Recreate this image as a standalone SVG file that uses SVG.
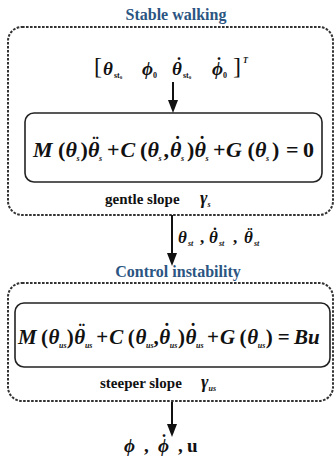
<svg xmlns="http://www.w3.org/2000/svg" width="334" height="462" viewBox="0 0 334 462">
<defs>
<marker id="ah" viewBox="0 0 13 10" refX="5" refY="5" markerWidth="13" markerHeight="10" markerUnits="userSpaceOnUse" orient="auto">
<path d="M0,0 L13,5 L0,10 Z" fill="#111"/>
</marker>
<style>
.title{font-family:"Liberation Serif",serif;font-weight:bold;font-size:16px;fill:#2b5582;text-anchor:middle}
.outer{fill:none;stroke:#333;stroke-width:2;stroke-dasharray:2.6,1.4}
.inner{fill:none;stroke:#222;stroke-width:1.6}
.eq{font-family:"Liberation Serif",serif;font-weight:bold;font-style:italic;font-size:22px;fill:#111}
.e2{font-size:21px}
.up{font-style:normal}
.sub{font-size:8px}
.dot{font-style:normal;font-size:20px}
.lbl{font-family:"Liberation Serif",serif;font-weight:bold;font-size:15px;fill:#111}
.conn{stroke:#111;stroke-width:2;fill:none}
</style>
</defs>
<g id="stable-walking">
<text class="title" x="176" y="20">Stable walking</text>
<rect class="outer" x="8" y="27" width="325" height="188" rx="14"/>
</g>
<g id="initial-state">
<text class="eq" style="font-size:19px" y="75"><tspan x="94" y="74" class="up" style="font-size:24px;font-weight:normal">[</tspan><tspan x="103" y="75">θ</tspan><tspan x="114" dy="3" class="sub up">st</tspan><tspan dy="1" style="font-size:5px" class="up">0</tspan><tspan x="142" dy="-4">ϕ</tspan><tspan x="153" dy="3" class="sub up">0</tspan><tspan x="172" dy="-3">θ</tspan><tspan x="183" dy="3" class="sub up">st</tspan><tspan dy="1" style="font-size:5px" class="up">0</tspan><tspan x="212" dy="-4">ϕ</tspan><tspan x="223" dy="3" class="sub up">0</tspan><tspan x="233" y="74" class="up" style="font-size:24px;font-weight:normal">]</tspan><tspan x="243" y="63" style="font-size:8px">T</tspan><tspan x="176" y="70" class="dot" style="font-size:18px">˙</tspan><tspan x="216" y="70" class="dot" style="font-size:18px">˙</tspan></text>
</g>
<g id="eq-stable">
<rect class="inner" x="25" y="113" width="297" height="69" rx="9"/>
<text class="eq" y="157"><tspan x="33">M</tspan><tspan x="58" class="up">(</tspan><tspan x="65.5">θ</tspan><tspan x="76.5" dy="4" class="sub">s</tspan><tspan x="80.5" dy="-4" class="up">)</tspan><tspan x="88">θ</tspan><tspan x="99" dy="4" class="sub">s</tspan><tspan x="107" dy="-4" class="up">+</tspan><tspan x="120.5">C</tspan><tspan x="140" class="up">(</tspan><tspan x="147.5">θ</tspan><tspan x="158.5" dy="4" class="sub">s</tspan><tspan x="163.5" dy="-4" class="up">,</tspan><tspan x="170">θ</tspan><tspan x="181" dy="4" class="sub">s</tspan><tspan x="187" dy="-4" class="up">)</tspan><tspan x="194.5">θ</tspan><tspan x="205.5" dy="4" class="sub">s</tspan><tspan x="213" dy="-4" class="up">+</tspan><tspan x="226">G</tspan><tspan x="247.5" class="up">(</tspan><tspan x="255">θ</tspan><tspan x="266" dy="4" class="sub">s</tspan><tspan x="272" dy="-4" class="up">)</tspan><tspan x="286" class="up">=</tspan><tspan x="303" class="up">0</tspan><tspan x="92.2" y="151" class="dot">¨</tspan><tspan x="174.2" y="151" class="dot">˙</tspan><tspan x="198.7" y="151" class="dot">˙</tspan></text>
</g>
<g id="gentle-slope">
<text class="lbl" x="105" y="204">gentle slope</text>
<text class="eq" x="200" y="204" style="font-size:18px">γ<tspan class="sub" dy="3">s</tspan></text>
</g>
<g id="control-instability">
<text class="title" x="178" y="277">Control instability</text>
<rect class="outer" x="8" y="283" width="325" height="118" rx="14"/>
</g>
<g id="eq-unstable">
<rect class="inner" x="15" y="303" width="315" height="64" rx="9"/>
<text class="eq e2" y="344"><tspan x="18">M</tspan><tspan x="41" class="up">(</tspan><tspan x="48.6">θ</tspan><tspan x="59.1" dy="4" class="sub">us</tspan><tspan x="66.7" dy="-4" class="up">)</tspan><tspan x="74.3">θ</tspan><tspan x="84.9" dy="4" class="sub">us</tspan><tspan x="96.3" dy="-4" class="up">+</tspan><tspan x="109.2">C</tspan><tspan x="127.8" class="up">(</tspan><tspan x="135.5">θ</tspan><tspan x="146" dy="4" class="sub">us</tspan><tspan x="153.6" dy="-4" class="up">,</tspan><tspan x="159.3">θ</tspan><tspan x="169.8" dy="4" class="sub">us</tspan><tspan x="178" dy="-4" class="up">)</tspan><tspan x="185.6">θ</tspan><tspan x="196.1" dy="4" class="sub">us</tspan><tspan x="207.1" dy="-4" class="up">+</tspan><tspan x="220">G</tspan><tspan x="239.6" class="up">(</tspan><tspan x="247.2">θ</tspan><tspan x="257.7" dy="4" class="sub">us</tspan><tspan x="265.8" dy="-4" class="up">)</tspan><tspan x="277.8" class="up">=</tspan><tspan x="294">Bu</tspan><tspan x="78.5" y="338" class="dot">¨</tspan><tspan x="163.5" y="338" class="dot">˙</tspan><tspan x="189.8" y="338" class="dot">˙</tspan></text>
</g>
<g id="steeper-slope">
<text class="lbl" x="100" y="388">steeper slope</text>
<text class="eq" x="201" y="388" style="font-size:18px">γ<tspan class="sub" dy="3">us</tspan></text>
</g>
<g id="output">
<text class="eq" style="font-size:19px" y="452"><tspan x="124">ϕ</tspan><tspan x="144" class="up">,</tspan><tspan x="158">ϕ</tspan><tspan x="178" class="up">,</tspan><tspan x="187" class="up">u</tspan><tspan x="161" y="447" class="dot" style="font-size:18px">˙</tspan></text>
</g>
<g id="connectors">
<line class="conn" x1="173" y1="82" x2="173" y2="105" marker-end="url(#ah)"/>
<line class="conn" x1="172" y1="215" x2="172" y2="258" marker-end="url(#ah)"/>
<line class="conn" x1="172" y1="402" x2="172" y2="429" marker-end="url(#ah)"/>
<text class="eq" style="font-size:17px" y="243"><tspan x="178">θ</tspan><tspan x="188" dy="3" class="sub">st</tspan><tspan x="200" dy="-3" class="up">,</tspan><tspan x="209">θ</tspan><tspan x="219" dy="3" class="sub">st</tspan><tspan x="233" dy="-3" class="up">,</tspan><tspan x="244">θ</tspan><tspan x="254" dy="3" class="sub">st</tspan><tspan x="212.3" y="239" class="dot" style="font-size:16px">˙</tspan><tspan x="247.3" y="239" class="dot" style="font-size:16px">¨</tspan></text>
</g>
</svg>
